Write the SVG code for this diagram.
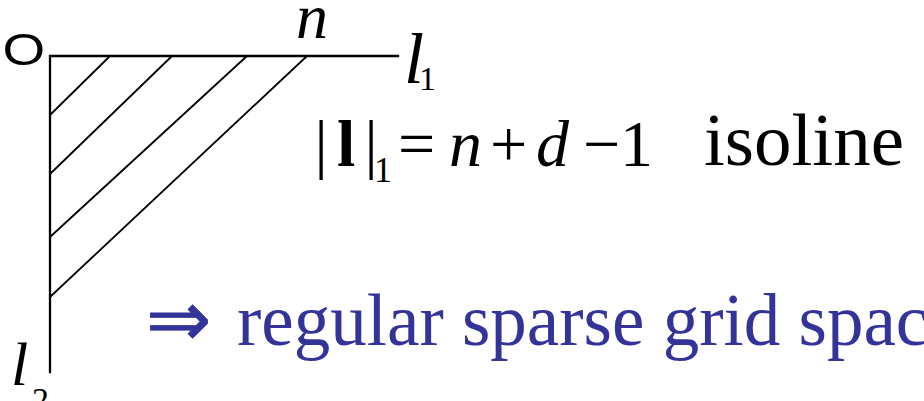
<svg xmlns="http://www.w3.org/2000/svg" width="924" height="401" viewBox="0 0 924 401">
<style>
.ax{stroke:#000;stroke-width:2.3;fill:none;stroke-linecap:square}
.ht{stroke:#000;stroke-width:1.8;fill:none}
</style>
<rect width="924" height="401" fill="#fff"/>
<g id="connectors">
<path class="ax" d="M50,56 H398 M50,56 V372"/>
<path class="ht" d="M110,56 L50,115 M172,56 L50,174 M247,56 L50,237 M307,56 L50,297"/>
</g>
<g id="origin">
<text transform="translate(2.5,64.5) scale(1.22,1)" x="0" y="0" font-family="Liberation Sans" font-size="45" fill="#000">O</text>
</g>
<g id="label-n"><text x="296" y="38" font-family="Liberation Serif" font-size="64" font-style="italic">n</text></g>
<g id="label-l1">
<text x="404" y="83" font-family="Liberation Serif" font-size="72" font-style="italic">l</text>
<text x="419" y="90" font-family="Liberation Serif" font-size="34">1</text>
</g>
<g id="label-l2">
<text x="11" y="385" font-family="Liberation Serif" font-size="62" font-style="italic">l</text>
<text x="32" y="411" font-family="Liberation Serif" font-size="34">2</text>
</g>
<g id="isoline-formula">
<text x="321" y="166" font-family="Liberation Serif" font-size="66" text-anchor="middle">|</text>
<text x="337" y="166" font-family="Liberation Serif" font-size="66" font-weight="bold">l</text>
<text x="371" y="166" font-family="Liberation Serif" font-size="66" text-anchor="middle">|</text>
<text x="374" y="182" font-family="Liberation Serif" font-size="36">1</text>
<text x="398" y="166" font-family="Liberation Serif" font-size="66">=</text>
<text x="449" y="166" font-family="Liberation Serif" font-size="66" font-style="italic">n</text>
<text x="490" y="166" font-family="Liberation Serif" font-size="66">+</text>
<text x="536" y="166" font-family="Liberation Serif" font-size="66" font-style="italic">d</text>
<text x="583" y="166" font-family="Liberation Serif" font-size="66">−</text>
<text x="620" y="166" font-family="Liberation Serif" font-size="66">1</text>
<text x="704" y="165" font-family="Liberation Serif" font-size="75">isoline</text>
</g>
<g id="conclusion" fill="#333399">
<text x="146" y="346" font-family="Liberation Serif" font-size="78" stroke="#333399" stroke-width="0.8">⇒</text>
<text x="237" y="345" font-family="Liberation Serif" font-size="73">regular sparse grid spac</text>
</g>
</svg>
